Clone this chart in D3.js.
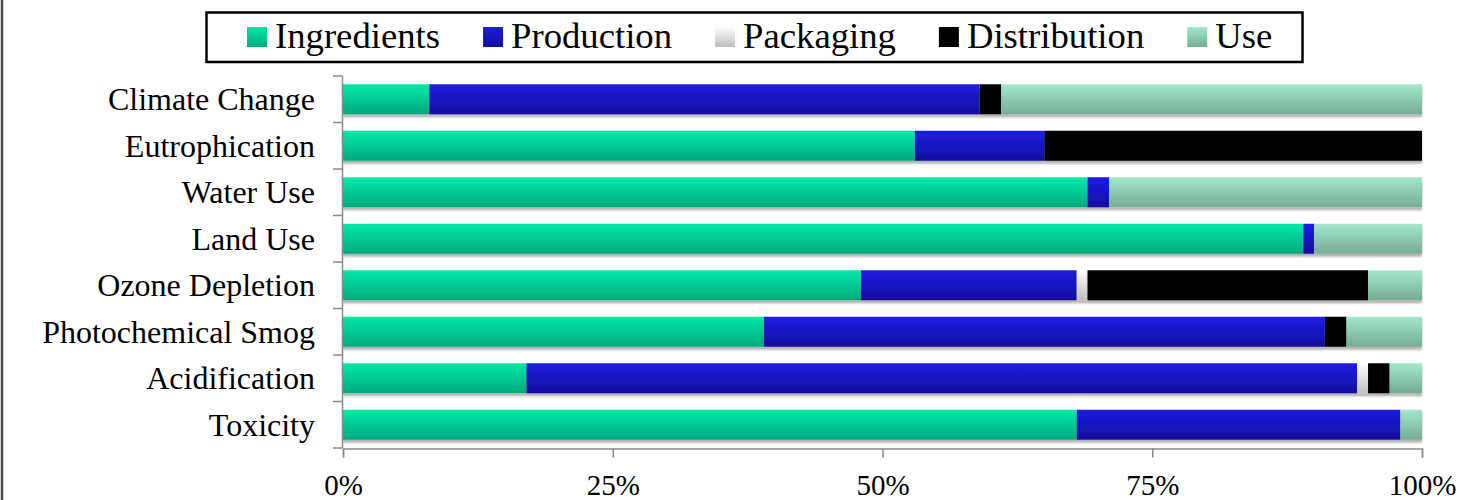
<!DOCTYPE html>
<html>
<head>
<meta charset="utf-8">
<script src="https://cdn.jsdelivr.net/npm/d3@7"></script>
<style>
  html, body { margin: 0; padding: 0; background: #fff; }
  svg { display: block; }
  text { font-family: "Liberation Serif", "Times New Roman", serif; fill: #000; }
</style>
</head>
<body>
<svg id="chart" width="1466" height="500"></svg>
<script>
const categories = ["Climate Change", "Eutrophication", "Water Use", "Land Use",
  "Ozone Depletion", "Photochemical Smog", "Acidification", "Toxicity"];
const seriesNames = ["Ingredients", "Production", "Packaging", "Distribution", "Use"];
const ingredients  = [8, 53, 69, 89, 48, 39, 17, 68];
const production   = [51, 12, 2, 1, 20, 52, 77, 30];
const packaging    = [0, 0, 0, 0, 1, 0, 1, 0];
const distribution = [2, 35, 0, 0, 26, 2, 2, 0];
const use          = [39, 0, 29, 10, 5, 7, 3, 2];
const xTicks = [0, 25, 50, 75, 100];
const xTickLabels = ["0%", "25%", "50%", "75%", "100%"];

const seriesValues = [ingredients, production, packaging, distribution, use];
const table = categories.map((c, i) => {
  const row = { category: c };
  seriesNames.forEach((s, j) => row[s] = seriesValues[j][i]);
  return row;
});

const gradients = {
  "Ingredients":  ["#00E9A9", "#00A97B"],
  "Production":   ["#1D1DE2", "#130E9E"],
  "Packaging":    ["#FFFFFF", "#BEBEBE"],
  "Distribution": ["#000000", "#000000"],
  "Use":          ["#A2E8CA", "#76AC94"]
};

const svg = d3.select("#chart");
const defs = svg.append("defs");
seriesNames.forEach((s, i) => {
  const g = defs.append("linearGradient").attr("id", "grad" + i)
    .attr("x1", 0).attr("y1", 0).attr("x2", 0).attr("y2", 1);
  g.append("stop").attr("offset", "0%").attr("stop-color", gradients[s][0]);
  g.append("stop").attr("offset", "100%").attr("stop-color", gradients[s][1]);
});
const f = defs.append("filter").attr("id", "shadow")
  .attr("x", "-2%").attr("y", "-20%").attr("width", "104%").attr("height", "160%");
f.append("feDropShadow").attr("dx", 0).attr("dy", 3).attr("stdDeviation", 1.3)
  .attr("flood-color", "#000").attr("flood-opacity", 0.3);

// left frame edge
svg.append("line").attr("x1", 2).attr("x2", 2).attr("y1", 0).attr("y2", 500)
  .attr("stroke", "#4a4a4a").attr("stroke-width", 2.5);

const x = d3.scaleLinear().domain([0, 100]).range([343, 1422]);
const y = d3.scaleBand().domain(categories).range([76, 448])
  .paddingInner(0.355).paddingOuter(0.1775);

const stack = d3.stack().keys(seriesNames);
const stacked = stack(table);

// bars
const rows = svg.append("g");
categories.forEach((c, ci) => {
  const rg = rows.append("g").attr("filter", "url(#shadow)");
  stacked.forEach((layer, li) => {
    const d = layer[ci];
    if (d[1] - d[0] <= 0) return;
    rg.append("rect")
      .attr("x", x(d[0]))
      .attr("width", x(d[1]) - x(d[0]))
      .attr("y", y(c))
      .attr("height", y.bandwidth())
      .attr("fill", "url(#grad" + li + ")");
  });
});

// y axis
const axisColor = "#8a8a8a";
svg.append("line").attr("x1", 342.5).attr("x2", 342.5).attr("y1", 76).attr("y2", 448)
  .attr("stroke", axisColor).attr("stroke-width", 1.5);
const boundaries = categories.map(c => y(c) - y.step() * y.paddingInner() / 2).concat([448]);
svg.append("g").selectAll("line").data(boundaries).join("line")
  .attr("x1", 333).attr("x2", 342.5)
  .attr("y1", d => d).attr("y2", d => d)
  .attr("stroke", axisColor).attr("stroke-width", 1.5);
svg.append("g").selectAll("text").data(categories).join("text")
  .attr("x", 315)
  .attr("y", d => y(d) + y.bandwidth() / 2 + 11)
  .attr("text-anchor", "end")
  .style("font-size", "32px")
  .text(d => d);

// x axis
const xAxis = d3.axisBottom(x).tickValues(xTicks).tickSize(9)
  .tickFormat((d, i) => xTickLabels[i]);
const xg = svg.append("g").attr("transform", "translate(0,448.5)").call(xAxis);
xg.select(".domain").attr("stroke", axisColor).attr("stroke-width", 1.5);
xg.selectAll(".tick line").attr("stroke", axisColor).attr("stroke-width", 1.5);
xg.selectAll(".tick text")
  .attr("y", 0).attr("dy", 0)
  .attr("transform", "translate(0,46.5)")
  .style("font-size", "29px")
  .style("font-family", "'Liberation Serif', 'Times New Roman', serif")
  .attr("fill", "#000");

// legend
const lg = svg.append("g");
lg.append("rect").attr("x", 206.5).attr("y", 12.5).attr("width", 1096).attr("height", 49.5)
  .attr("fill", "#fff").attr("stroke", "#000").attr("stroke-width", 2.5);
let lx = 247;
seriesNames.forEach((s, i) => {
  lg.append("rect").attr("x", lx).attr("y", 27).attr("width", 20).attr("height", 20)
    .attr("fill", "url(#grad" + i + ")");
  const t = lg.append("text").attr("x", lx + 28).attr("y", 48)
    .style("font-size", "36.7px").text(s);
  const w = t.node().getComputedTextLength();
  lx = lx + 28 + w + 43;
});
</script>
</body>
</html>
